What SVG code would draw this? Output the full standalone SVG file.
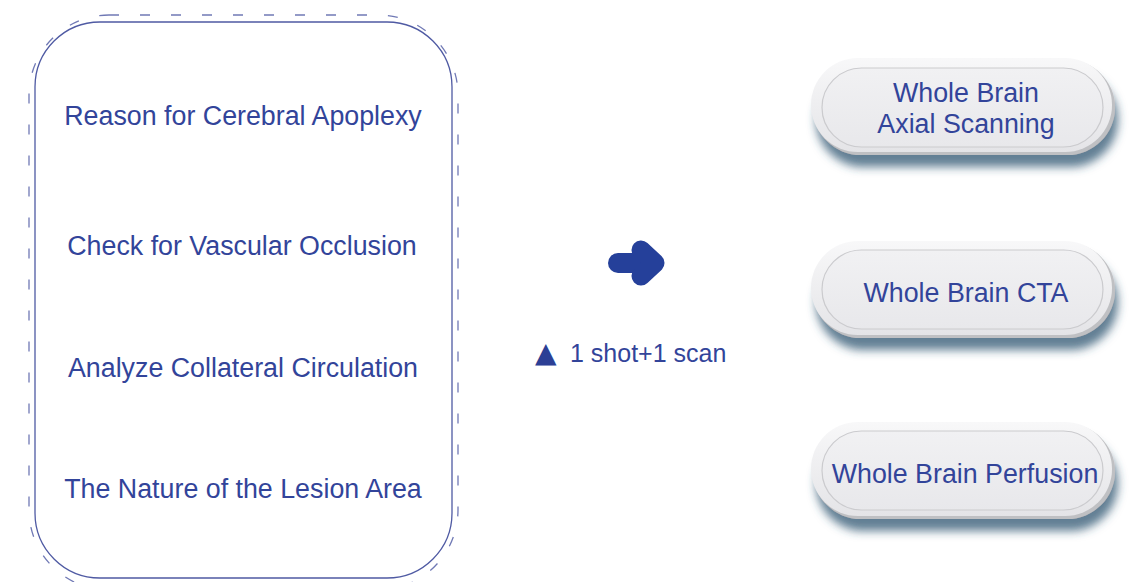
<svg xmlns="http://www.w3.org/2000/svg" width="1139" height="582" viewBox="0 0 1139 582">
<style>
.t{font-family:"Liberation Sans",Arial,sans-serif;font-size:26.8px;fill:#32449a;text-anchor:middle}
.pillEdge{fill:#bfc0c3}
.pill{fill:url(#pg)}
.pillIn{fill:url(#pi);stroke:#cbcbce;stroke-width:1.2}
</style>
<defs>
<linearGradient id="pg" x1="0" y1="0" x2="0" y2="1">
<stop offset="0" stop-color="#f8f8f9"/>
<stop offset="1" stop-color="#e4e4e7"/>
</linearGradient>
<linearGradient id="pi" x1="0" y1="0" x2="0" y2="1">
<stop offset="0" stop-color="#f1f1f3"/>
<stop offset="1" stop-color="#e8e8eb"/>
</linearGradient>
<filter id="sh" x="-20%" y="-30%" width="140%" height="180%">
<feDropShadow dx="3" dy="12" stdDeviation="5" flood-color="#2f5470" flood-opacity="0.75"/>
</filter>
</defs>
<rect width="1139" height="582" fill="#ffffff"/>

<g id="left-panel">
<rect x="29" y="15" width="429" height="575" rx="80" fill="none" stroke="#7079b5" stroke-width="1.3" stroke-dasharray="10 21"/>
<rect x="35" y="22" width="417" height="556" rx="65" fill="#ffffff" stroke="#4f5aa3" stroke-width="1.3"/>
</g>
<g id="item1"><text class="t" x="243" y="125">Reason for Cerebral Apoplexy</text></g>
<g id="item2"><text class="t" x="242" y="255">Check for Vascular Occlusion</text></g>
<g id="item3"><text class="t" x="243" y="377">Analyze Collateral Circulation</text></g>
<g id="item4"><text class="t" x="243" y="498">The Nature of the Lesion Area</text></g>

<g id="connectors" stroke="#25409a" fill="none" stroke-linecap="round" stroke-linejoin="round">
<line x1="618" y1="263" x2="648" y2="263" stroke-width="20"/>
<polyline points="641,250 655,263 641,276" stroke-width="19"/>
</g>

<g id="note">
<text x="535" y="362" style="font-family:'Liberation Sans',Arial,sans-serif;font-size:25px;fill:#32449a"><tspan style="font-family:'DejaVu Sans',sans-serif;font-size:28px;fill:#2c3f95">▲</tspan><tspan x="570">1 shot+1 scan</tspan></text>
</g>

<g id="pill1">
<g filter="url(#sh)">
<rect class="pillEdge" x="813" y="60" width="302" height="95" rx="47.5"/>
</g>
<rect class="pill" x="811" y="58" width="301" height="94" rx="47"/>
<rect class="pillIn" x="822" y="68" width="281" height="79" rx="39.5"/>
<text class="t" x="966" y="102">Whole Brain</text>
<text class="t" x="966" y="133">Axial Scanning</text>
</g>

<g id="pill2">
<g filter="url(#sh)">
<rect class="pillEdge" x="813" y="243" width="302" height="95" rx="47.5"/>
</g>
<rect class="pill" x="811" y="241" width="301" height="94" rx="47"/>
<rect class="pillIn" x="822" y="250" width="281" height="79" rx="39.5"/>
<text class="t" x="966" y="302">Whole Brain CTA</text>
</g>

<g id="pill3">
<g filter="url(#sh)">
<rect class="pillEdge" x="813" y="424" width="302" height="95" rx="47.5"/>
</g>
<rect class="pill" x="811" y="422" width="301" height="94" rx="47"/>
<rect class="pillIn" x="822" y="431" width="281" height="79" rx="39.5"/>
<text class="t" x="965" y="483">Whole Brain Perfusion</text>
</g>
</svg>
